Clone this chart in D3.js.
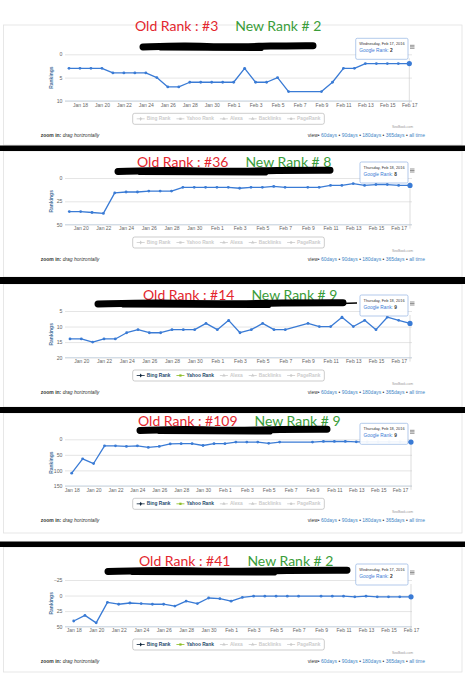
<!DOCTYPE html>
<meta charset="utf-8">
<style>
body { margin: 0; background: #fff; }
svg { display: block; font-family: "Liberation Sans", Arial, sans-serif; }
.grid line { stroke: #d4d4d4; stroke-width: 0.6; }
.grid text { font-size: 5.2px; fill: #666; }
.xaxis text { font-size: 5px; fill: #666; }
.title { font-family: Lato, "Open Sans", sans-serif; font-size: 14px; font-weight: 400; }
</style>
<body>
<script src="https://d3js.org/d3.v7.min.js"></script>
<script>

// one entry per day, 2016
var days = ["Jan 17","Jan 18","Jan 19","Jan 20","Jan 21","Jan 22","Jan 23","Jan 24","Jan 25","Jan 26",
  "Jan 27","Jan 28","Jan 29","Jan 30","Jan 31","Feb 1","Feb 2","Feb 3","Feb 4","Feb 5","Feb 6",
  "Feb 7","Feb 8","Feb 9","Feb 10","Feb 11","Feb 12","Feb 13","Feb 14","Feb 15","Feb 16","Feb 17","Feb 18"];

var tickLabels = ["Jan 18","Jan 20","Jan 22","Jan 24","Jan 26","Jan 28","Jan 30","Feb 1",
  "Feb 3","Feb 5","Feb 7","Feb 9","Feb 11","Feb 13","Feb 15","Feb 17"];

// Google rank per day (null = no reading)
var google1 = [3,3,3,3,4,4,4,4,5,7,7,6,6,6,6,
  6,3,6,6,5,8,null,null,8,6,3,3,2,2,2,2,2,null];
var google2 = [null,null,36,36,37,38,16,15,15,14,14,14,10,10,10,
  10,10,11,10,10,9,10,null,10,10,8,8,6,8,7,7,8,8];
var google3 = [null,null,14,14,15,14,14,12,11,12,12,11,11,11,9,
  11,8,12,11,9,11,11,null,9,10,10,7,10,8,11,7,8,9];
var google4 = [null,109,63,78,21,21,23,21,26,23,15,14,14,20,14,
  14,9,9,9,13,9,null,null,9,7,7,7,8,8,8,8,8,9];
var google5 = [null,41,32,44,11,14,12,13,14,14,17,9,13,4,5,
  9,3,1,1,1,1,1,null,1,1,1,2,1,2,2,2,2,null];

var yTicks1 = [0, 5, 10];
var yTicks2 = [0, 25, 50];
var yTicks3 = [5, 10, 15, 20];
var yTicks4 = [0, 50, 100, 150];
var yTicks5 = [-25, 0, 25, 50];

var oldRanks = [3, 36, 14, 109, 41];
var newRanks = [2, 8, 9, 9, 2];

var legendNames = ["Bing Rank", "Yahoo Rank", "Alexa", "Backlinks", "PageRank"];
var legendShown = [
  [false, false, false, false, false],
  [false, false, false, false, false],
  [true, true, false, false, false],
  [true, true, false, false, false],
  [true, true, false, false, false]
];
var viewLinks = ["60days", "90days", "180days", "365days", "all time"];

// page layout of the five screenshots
var panels = [
  {values: google1, yTicks: yTicks1, plotTop: 54.3, titleBase: 31, titleX: 135, x0: 69, x1: 409.3, scrib: [143, 313, 46.5], box: [25, 145]},
  {values: google2, yTicks: yTicks2, plotTop: 178, titleBase: 167, titleX: 137, x0: 69.3, x1: 410, scrib: [118, 330, 171], box: [151, 277]},
  {values: google3, yTicks: yTicks3, plotTop: 311, titleBase: 299.5, titleX: 143, x0: 70, x1: 410, scrib: [98, 343, 303.5], box: [284, 407]},
  {values: google4, yTicks: yTicks4, plotTop: 439.3, titleBase: 426, titleX: 138, x0: 71.7, x1: 411, scrib: [140, 327, 430], box: [413, 533]},
  {values: google5, yTicks: yTicks5, plotTop: 580, titleBase: 566, titleX: 139, x0: 73.7, x1: 411, scrib: [108, 347, 571], box: [547, 672]}
];
var blackBars = [[145.5, 151], [277, 284], [407, 413], [541.5, 547]];

var plotLeft = 65, plotRight = 412, plotH = 46.6;
var blue = "#3a7bd5";
var legendColors = ["#0d233a", "#8bbc21", "#ccc", "#ccc", "#ccc"];
var symbols = [d3.symbolDiamond, d3.symbolSquare, d3.symbolTriangle, d3.symbolTriangle, d3.symbolCircle];

var parseDay = d3.timeParse("%b %d %Y");
var dates = days.map(function(d) { return parseDay(d + " 2016"); });
var ticks = tickLabels.map(function(d) { return parseDay(d + " 2016"); });
var fmtTick = d3.timeFormat("%b %-d");
var fmtTip = d3.timeFormat("%A, %b %-d, %Y");

var svg = d3.select("body").append("svg")
    .attr("width", 465)
    .attr("height", 700);

svg.append("rect").attr("width", 465).attr("height", 700).attr("fill", "#fff");

panels.forEach(function(p, i) {
  var g = svg.append("g");
  var points = [];
  p.values.forEach(function(v, j) { if (v != null) points.push({date: dates[j], v: v}); });

  var top = p.plotTop, bottom = p.plotTop + plotH;

  g.append("rect")
      .attr("x", 3.5).attr("y", p.box[0])
      .attr("width", 458.5).attr("height", p.box[1] - p.box[0])
      .attr("fill", "none").attr("stroke", "#e2e2e2").attr("stroke-width", 0.8);

  var x = d3.scaleTime()
      .domain([points[0].date, points[points.length - 1].date])
      .range([p.x0, p.x1]);
  var y = d3.scaleLinear()
      .domain(d3.extent(p.yTicks))
      .range([top, bottom]);

  // y gridlines + labels
  var grid = g.append("g")
      .attr("class", "grid")
      .attr("transform", "translate(" + plotLeft + ",0)")
      .call(d3.axisLeft(y).tickValues(p.yTicks).tickSize(-(plotRight - plotLeft)).tickPadding(2.5));
  grid.select(".domain").remove();

  // x axis
  var xa = g.append("g")
      .attr("class", "xaxis")
      .attr("transform", "translate(0," + bottom + ")")
      .call(d3.axisBottom(x)
        .tickValues(ticks.filter(function(t) { return x(t) > plotLeft + 2 && x(t) < plotRight + 2; }))
        .tickFormat(fmtTick).tickSize(0).tickPadding(2.2));
  xa.select(".domain").remove();
  g.append("line")
      .attr("x1", plotLeft).attr("x2", plotRight)
      .attr("y1", bottom).attr("y2", bottom)
      .attr("stroke", "#c0d0e0").attr("stroke-width", 0.7);

  g.append("text")
      .attr("transform", "translate(51.5," + (top + plotH / 2) + ") rotate(-90)")
      .attr("text-anchor", "middle")
      .attr("dy", "0.35em")
      .style("font-size", "5px").style("font-weight", "bold")
      .attr("fill", "#4d759e")
      .text("Rankings");

  var last = points[points.length - 1];

  // hover line at the last point
  g.append("line")
      .attr("x1", x(last.date)).attr("x2", x(last.date))
      .attr("y1", top + 4).attr("y2", bottom + 4)
      .attr("stroke", "#c8c8c8").attr("stroke-width", 0.6);

  g.append("path")
      .datum(points)
      .attr("fill", "none")
      .attr("stroke", blue)
      .attr("stroke-width", 1.3)
      .attr("stroke-linejoin", "round")
      .attr("d", d3.line().x(function(d) { return x(d.date); }).y(function(d) { return y(d.v); }));

  g.selectAll(".dot")
      .data(points)
    .enter().append("circle")
      .attr("cx", function(d) { return x(d.date); })
      .attr("cy", function(d) { return y(d.v); })
      .attr("r", function(d, j) { return j === points.length - 1 ? 2.6 : 1.4; })
      .attr("fill", blue);

  // tooltip
  var tip = g.append("g");
  var tipTop = top - 16, tipRight = 408;
  var bg = tip.append("rect");
  var l1 = tip.append("text")
      .attr("y", tipTop + 6.6)
      .style("font-size", "3.9px").attr("fill", "#333")
      .text(fmtTip(last.date));
  var l2 = tip.append("text")
      .attr("y", tipTop + 14)
      .style("font-size", "4.8px").attr("fill", blue);
  l2.append("tspan").text("Google Rank: ");
  l2.append("tspan").style("font-weight", "bold").attr("fill", "#333").text(last.v);
  var tw = Math.max(l1.node().getComputedTextLength(), l2.node().getComputedTextLength()) + 7;
  bg.attr("x", tipRight - tw).attr("y", tipTop)
      .attr("width", tw).attr("height", 21)
      .attr("rx", 1.5)
      .attr("fill", "rgba(255,255,255,0.92)")
      .attr("stroke", "#7fa6dd").attr("stroke-width", 0.6);
  l1.attr("x", tipRight - tw + 3.6);
  l2.attr("x", tipRight - tw + 3.6);

  // export menu icon
  [0, 1.5, 3].forEach(function(o) {
    g.append("line")
        .attr("x1", 410).attr("x2", 414.5)
        .attr("y1", top - 9 + o).attr("y2", top - 9 + o)
        .attr("stroke", "#666").attr("stroke-width", 0.7);
  });

  // legend
  var lbox = g.append("rect");
  var lg = g.append("g");
  var lx = 0;
  legendNames.forEach(function(name, k) {
    var on = legendShown[i][k];
    var c = on ? legendColors[k] : "#ccc";
    var it = lg.append("g").attr("transform", "translate(" + lx + ",0)");
    it.append("line").attr("x1", 0).attr("x2", 8).attr("y1", 0).attr("y2", 0)
        .attr("stroke", c).attr("stroke-width", 0.8);
    it.append("path")
        .attr("transform", "translate(4,0)")
        .attr("d", d3.symbol().type(symbols[k]).size(5)())
        .attr("fill", c);
    var t = it.append("text")
        .attr("x", 10).attr("dy", "0.35em")
        .style("font-size", "4.8px").style("font-weight", "bold")
        .attr("fill", on ? "#274b6d" : "#ccc")
        .text(name);
    lx += 10 + t.node().getComputedTextLength() + 6;
  });
  var lw = lx - 6 + 8;
  var lLeft = 228.5 - lw / 2;
  lg.attr("transform", "translate(" + (lLeft + 4) + "," + (top + 64.5) + ")");
  lbox.attr("x", lLeft).attr("y", top + 59)
      .attr("width", lw).attr("height", 11)
      .attr("rx", 2)
      .attr("fill", "#fff").attr("stroke", "#9a9a9a").attr("stroke-width", 0.5);

  g.append("text")
      .attr("x", plotRight + 1).attr("y", top + 74)
      .attr("text-anchor", "end")
      .style("font-size", "3.4px").attr("fill", "#999")
      .text("SeoBook.com");

  var zt = g.append("text")
      .attr("x", 40.7).attr("y", top + 82.6)
      .style("font-size", "5px").attr("fill", "#333");
  zt.append("tspan").style("font-weight", "bold").text("zoom in:");
  zt.append("tspan").style("font-style", "italic").text(" drag horizontally");

  var vt = g.append("text")
      .attr("x", 425).attr("y", top + 82.6)
      .attr("text-anchor", "end")
      .style("font-size", "5px").attr("fill", "#333");
  vt.append("tspan").text("view\u2022 ");
  viewLinks.forEach(function(v, k) {
    if (k > 0) vt.append("tspan").attr("fill", "#333").text(" \u2022 ");
    vt.append("tspan").attr("fill", "#3d85c6").text(v);
  });

  // annotation title
  var t1 = g.append("text")
      .attr("class", "title")
      .attr("x", p.titleX).attr("y", p.titleBase)
      .attr("fill", "#e3262e")
      .text("Old Rank : #" + oldRanks[i]);
  g.append("text")
      .attr("class", "title")
      .attr("x", p.titleX + t1.node().getComputedTextLength() + 17).attr("y", p.titleBase)
      .attr("fill", "#3a9d3a")
      .text("New Rank # " + newRanks[i]);

  // redaction scribble
  var s = p.scrib, sw = s[1] - s[0];
  g.append("path")
      .attr("d", d3.line().curve(d3.curveBasis)([
        [s[0], s[2] + 0.5], [s[0] + sw * 0.25, s[2] - 1], [s[0] + sw * 0.5, s[2] + 0.8],
        [s[0] + sw * 0.75, s[2] - 0.6], [s[1], s[2] - 0.8]]))
      .attr("fill", "none").attr("stroke", "#000")
      .attr("stroke-width", 7).attr("stroke-linecap", "round");
  g.append("path")
      .attr("d", d3.line()([[s[0] + sw * 0.1, s[2] + 2.5], [s[0] + sw * 0.7, s[2] + 3]]))
      .attr("fill", "none").attr("stroke", "#000")
      .attr("stroke-width", 3).attr("stroke-linecap", "round");
  if (i === 2) {
    g.append("path")
        .attr("d", d3.line()([[s[1] - 2, s[2]], [s[1] + 14, s[2] - 0.5]]))
        .attr("stroke", "#000").attr("stroke-width", 1.6);
  }
});

svg.selectAll(".bar")
    .data(blackBars)
  .enter().append("rect")
    .attr("x", 0).attr("width", 465)
    .attr("y", function(d) { return d[0]; })
    .attr("height", function(d) { return d[1] - d[0]; })
    .attr("fill", "#000");

</script>
